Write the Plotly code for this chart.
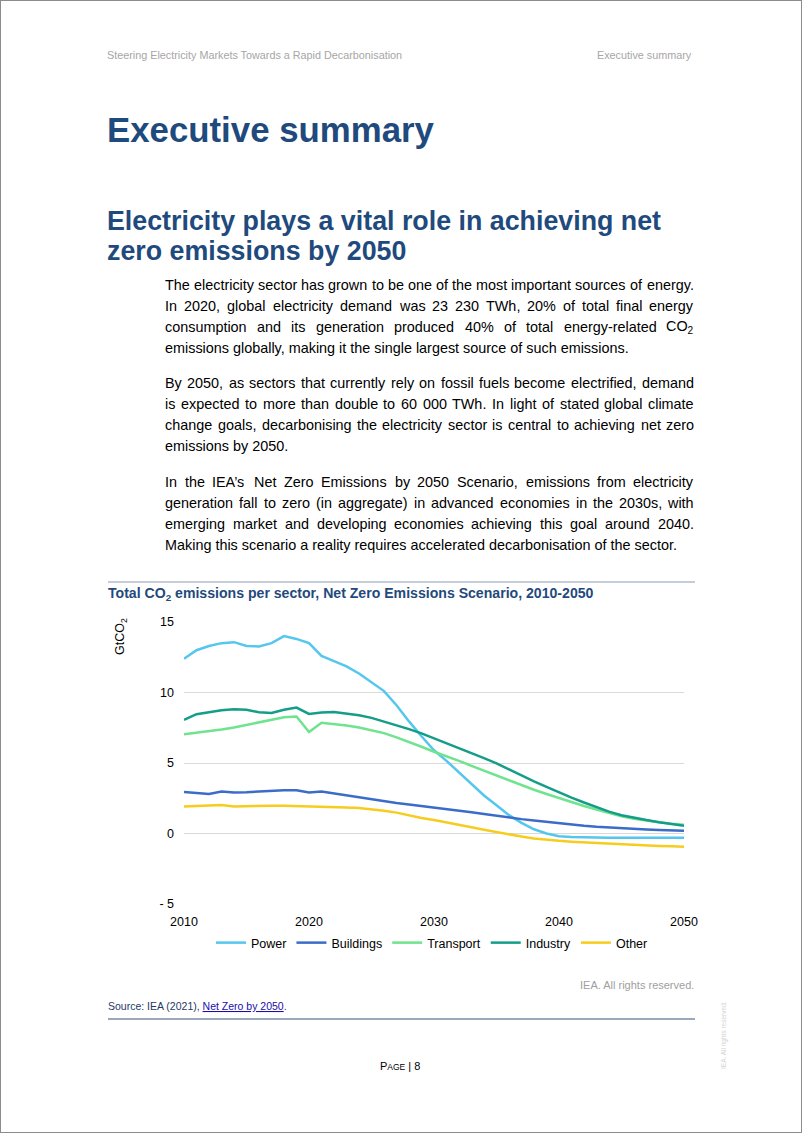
import plotly.graph_objects as go

W, H = 802, 1133

years = list(range(2010, 2051))
power = [12.4, 13.0, 13.3, 13.5, 13.57, 13.3, 13.27, 13.5, 14.0, 13.8,
         13.5, 12.6, 12.23, 11.85, 11.35, 10.75, 10.1, 9.1, 7.95, 6.9,
         5.9, 5.15, 4.35, 3.5, 2.7, 2.0, 1.3, 0.75, 0.3, 0.0,
         -0.2, -0.25, -0.28, -0.3, -0.3, -0.3, -0.3, -0.3, -0.3, -0.3, -0.3]
buildings = [2.95, 2.86, 2.81, 2.98, 2.91, 2.93, 2.98, 3.02, 3.07, 3.07,
             2.91, 2.98, 2.84, 2.70, 2.55, 2.44, 2.30, 2.16, 2.05, 1.95,
             1.85, 1.75, 1.63, 1.50, 1.38, 1.25, 1.13, 1.02, 0.92, 0.82,
             0.72, 0.63, 0.55, 0.48, 0.42, 0.37, 0.33, 0.29, 0.25, 0.22, 0.20]
transport = [7.03, 7.15, 7.22, 7.38, 7.52, 7.69, 7.87, 8.06, 8.25, 8.30,
             7.20, 7.85, 7.78, 7.66, 7.52, 7.34, 7.12, 6.82, 6.50, 6.15,
             5.80, 5.50, 5.15, 4.80, 4.45, 4.10, 3.75, 3.40, 3.10, 2.80,
             2.50, 2.20, 1.95, 1.70, 1.45, 1.22, 1.05, 0.90, 0.80, 0.70, 0.62]
industry = [8.06, 8.46, 8.60, 8.74, 8.81, 8.77, 8.60, 8.55, 8.77, 8.93,
            8.48, 8.58, 8.62, 8.53, 8.39, 8.20, 7.94, 7.64, 7.40, 7.10,
            6.75, 6.40, 6.10, 5.72, 5.35, 4.98, 4.55, 4.10, 3.70, 3.30,
            2.90, 2.55, 2.20, 1.85, 1.55, 1.30, 1.10, 0.95, 0.80, 0.66, 0.55]
other = [1.92, 1.95, 1.97, 2.02, 1.92, 1.95, 1.95, 1.97, 1.97, 1.95,
         1.95, 1.88, 1.88, 1.85, 1.80, 1.73, 1.62, 1.48, 1.28, 1.10,
         0.95, 0.80, 0.62, 0.45, 0.27, 0.10, -0.05, -0.22, -0.35, -0.45,
         -0.52, -0.58, -0.63, -0.68, -0.73, -0.77, -0.81, -0.85, -0.88, -0.91, -0.94]

series_names = ["Power", "Buildings", "Transport", "Industry", "Other"]
series_values = [power, buildings, transport, industry, other]
series_colors = ["#55c6ee", "#3a6cc8", "#6fe38d", "#149d89", "#f6cd1e"]

y_ticks = [-5, 0, 5, 10, 15]
y_ticktext = ["- 5", "0", "5", "10", "15"]
x_ticks = [2010, 2020, 2030, 2040, 2050]

# body paragraphs, one entry per printed line; True = justified line
body_lines = [
    ("The electricity sector has grown to be one of the most important sources of energy.", True),
    ("In 2020, global electricity demand was 23 230 TWh, 20% of total final energy", True),
    ("consumption and its generation produced 40% of total energy-related CO<sub>2</sub>", True),
    ("emissions globally, making it the single largest source of such emissions.", False),
    ("By 2050, as sectors that currently rely on fossil fuels become electrified, demand", True),
    ("is expected to more than double to 60 000 TWh. In light of stated global climate", True),
    ("change goals, decarbonising the electricity sector is central to achieving net zero", True),
    ("emissions by 2050.", False),
    ("In the IEA\u2019s Net Zero Emissions by 2050 Scenario, emissions from electricity", True),
    ("generation fall to zero (in aggregate) in advanced economies in the 2030s, with", True),
    ("emerging market and developing economies achieving this goal around 2040.", True),
    ("Making this scenario a reality requires accelerated decarbonisation of the sector.", False),
]
body_y = [285, 306, 327, 348, 383, 404, 425, 446, 482, 503, 524, 545]

FONT = "Liberation Sans, Arial, sans-serif"
BLUE = "#1f4a7d"

# Arial / Liberation Sans advance widths (1/1000 em)
CW = {" ": 278, "'": 191, "\u2019": 222, "(": 333, ")": 333, ",": 278, "-": 333,
      ".": 278, "%": 889}
for ch in "0123456789":
    CW[ch] = 556
CW.update(dict(zip("ABCDEFGHIJKLMNOPQRSTUVWXYZ",
                   [667, 667, 722, 722, 667, 611, 778, 722, 278, 500, 667, 556, 833,
                    722, 778, 667, 778, 722, 667, 611, 722, 667, 944, 667, 667, 611])))
CW.update(dict(zip("abcdefghijklmnopqrstuvwxyz",
                   [556, 556, 500, 556, 556, 278, 556, 556, 222, 222, 500, 222, 833,
                    556, 556, 556, 556, 333, 500, 278, 556, 500, 722, 500, 500, 500])))


def word_width(word, size):
    if "<sub>" in word:
        main, rest = word.split("<sub>")
        sub = rest.replace("</sub>", "")
        return (sum(CW.get(c, 556) for c in main) +
                0.7 * sum(CW.get(c, 556) for c in sub)) * size / 1000
    return sum(CW.get(c, 556) for c in word) * size / 1000


def px(x):
    return x / W


def py(y):
    return 1 - y / H


fig = go.Figure()
for name, vals, col in zip(series_names, series_values, series_colors):
    fig.add_trace(go.Scatter(x=years, y=vals, mode="lines", name=name,
                             line=dict(color=col, width=2.5),
                             xaxis="x", yaxis="y"))

ydom = [py(904), py(622)]
yr = [-5, 15]
zero_pos = ydom[0] + (0 - yr[0]) / (yr[1] - yr[0]) * (ydom[1] - ydom[0])

fig.update_layout(
    width=W, height=H,
    margin=dict(l=0, r=0, t=0, b=0, autoexpand=False),
    paper_bgcolor="white", plot_bgcolor="white",
    font=dict(family=FONT, color="#000000", size=12.5),
    showlegend=True,
    legend=dict(orientation="h", x=px(432), xanchor="center",
                y=py(943), yanchor="middle", font=dict(size=12.5),
                itemwidth=30, bgcolor="rgba(0,0,0,0)", traceorder="normal"),
    xaxis=dict(domain=[px(184), px(684)], range=[2010, 2050],
               tickvals=x_ticks, showgrid=False, zeroline=False,
               showline=False, ticks="", ticklabelstandoff=8,
               tickfont=dict(size=12.5), anchor="y", automargin=False),
    xaxis2=dict(domain=[px(184), px(684)], range=[2010, 2050],
                overlaying="x", anchor="free", position=zero_pos,
                showline=True, linecolor="#595959", linewidth=2,
                ticks="outside", ticklen=5, tickwidth=1.5, tickcolor="#595959",
                dtick=5, tick0=2010, showticklabels=False, showgrid=False,
                zeroline=False, layer="above traces", automargin=False),
    yaxis=dict(domain=ydom, range=yr, tickvals=y_ticks, ticktext=y_ticktext,
               showgrid=True, gridcolor="#d9d9d9", gridwidth=1,
               zeroline=False, showline=False, ticks="",
               ticklabelstandoff=9, tickfont=dict(size=12.5), automargin=False),
)

ann = []


def text(x, y, t, size, color="#000000", xanchor="left", bold=False, angle=0,
         yanchor="middle"):
    if bold:
        t = "<b>" + t + "</b>"
    ann.append(dict(x=px(x), y=py(y), xref="paper", yref="paper", text=t,
                    showarrow=False, xanchor=xanchor, yanchor=yanchor,
                    textangle=angle, borderpad=0, borderwidth=0,
                    font=dict(family=FONT, size=size, color=color)))


# header
text(107, 55, "Steering Electricity Markets Towards a Rapid Decarbonisation", 10.8, "#a6a6a6")
text(692, 55, "Executive summary", 10.8, "#a6a6a6", xanchor="right")

# titles
text(107, 130, "Executive summary", 34.8, BLUE, bold=True)
text(107, 221, "Electricity plays a vital role in achieving net", 26.8, BLUE, bold=True)
text(107, 251, "zero emissions by 2050", 26.8, BLUE, bold=True)

# body (justified like the reference)
BODY_SIZE = 14.4
LEFT, RIGHT = 165, 694
for y, (line, justify) in zip(body_y, body_lines):
    if not justify:
        text(LEFT, y, line, BODY_SIZE)
        continue
    words = line.split(" ")
    widths = [word_width(w, BODY_SIZE) for w in words]
    gap = (RIGHT - LEFT - sum(widths)) / (len(words) - 1)
    xpos = LEFT
    for i, (w, wd) in enumerate(zip(words, widths)):
        if i == len(words) - 1:
            text(RIGHT, y, w, BODY_SIZE, xanchor="right")
        else:
            text(xpos, y, w, BODY_SIZE)
        xpos += wd + gap

# chart title
text(108, 594, "Total CO<sub>2</sub> emissions per sector, Net Zero Emissions Scenario, 2010-2050",
     14.1, BLUE, bold=True)
# y axis title
text(121, 637, "GtCO<sub>2</sub>", 12.5, "#000000", xanchor="center", angle=-90)

# footer
text(694, 985, "IEA. All rights reserved.", 11, "#a0a0a0", xanchor="right")
text(108, 1006, "Source: IEA (2021), <span style='color:#1a0dab'><u>Net Zero by 2050</u></span>.",
     10.5, "#1f3864")
text(400, 1066, "P<span style='font-size:8.5px'>AGE</span> | 8", 11, "#000000",
     xanchor="center")
text(724, 1035, "IEA. All rights reserved.", 6.5, "#d3d3d3", xanchor="center", angle=-90)

fig.update_layout(annotations=ann)

shapes = [
    dict(type="line", xref="paper", yref="paper", x0=px(108), x1=px(695),
         y0=py(582), y1=py(582), line=dict(color="#8a9bb3", width=1)),
    dict(type="line", xref="paper", yref="paper", x0=px(108), x1=px(695),
         y0=py(1019), y1=py(1019), line=dict(color="#7a8aa3", width=1.5)),
    dict(type="rect", xref="paper", yref="paper", x0=0, x1=1, y0=0, y1=1,
         line=dict(color="#8c8c8c", width=2)),
]
fig.update_layout(shapes=shapes)

post = ("document.documentElement.style.margin='0';"
        "document.body.style.margin='0';"
        "document.body.style.padding='0';"
        "document.documentElement.style.overflow='hidden';"
        "document.body.style.overflow='hidden';")

fig.write_html("out.html", post_script=post, config={"displayModeBar": False})
